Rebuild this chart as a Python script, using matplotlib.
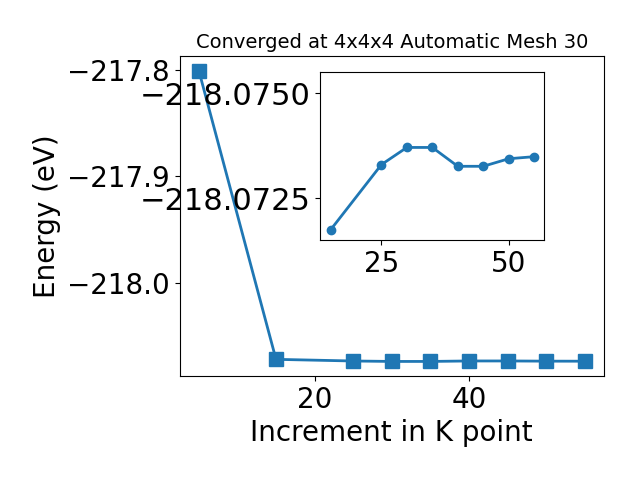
import matplotlib
matplotlib.use("Agg")
import matplotlib.pyplot as plt

kpoints = [5, 15, 25, 30, 35, 40, 45, 50, 55]
energy = [-217.8005, -218.07174, -218.0733, -218.07371, -218.07371,
          -218.07326, -218.07326, -218.07344, -218.07349]

inset_k = kpoints[1:]
inset_e = energy[1:]

title = "Converged at 4x4x4 Automatic Mesh 30"

fig = plt.figure(figsize=(6.4, 4.8), dpi=100)
ax = fig.add_axes([0.2805, 0.2167, 0.6633, 0.6666])
ax.plot(kpoints, energy, marker='s', markersize=10, linewidth=2, color='#1f77b4')
ax.set_xlabel("Increment in K point", fontsize=20)
ax.set_ylabel("Energy (eV)", fontsize=20)
ax.set_title(title, fontsize=14)
ax.tick_params(labelsize=20)
ax.set_xticks([20, 40])
ax.set_yticks([-217.8, -217.9, -218.0])

ins = fig.add_axes([0.5005, 0.5, 0.35, 0.349])
ins.plot(inset_k, inset_e, marker='o', linewidth=2, color='#1f77b4')
ins.set_ylim(-218.0715, -218.0755)
ins.set_yticks([-218.0750, -218.0725])
ins.set_yticklabels(["\u2212218.0750", "\u2212218.0725"])
ins.set_xticks([25, 50])
ins.tick_params(axis='x', labelsize=20)
ins.tick_params(axis='y', labelsize=22)

fig.savefig("out.png", dpi=100)
